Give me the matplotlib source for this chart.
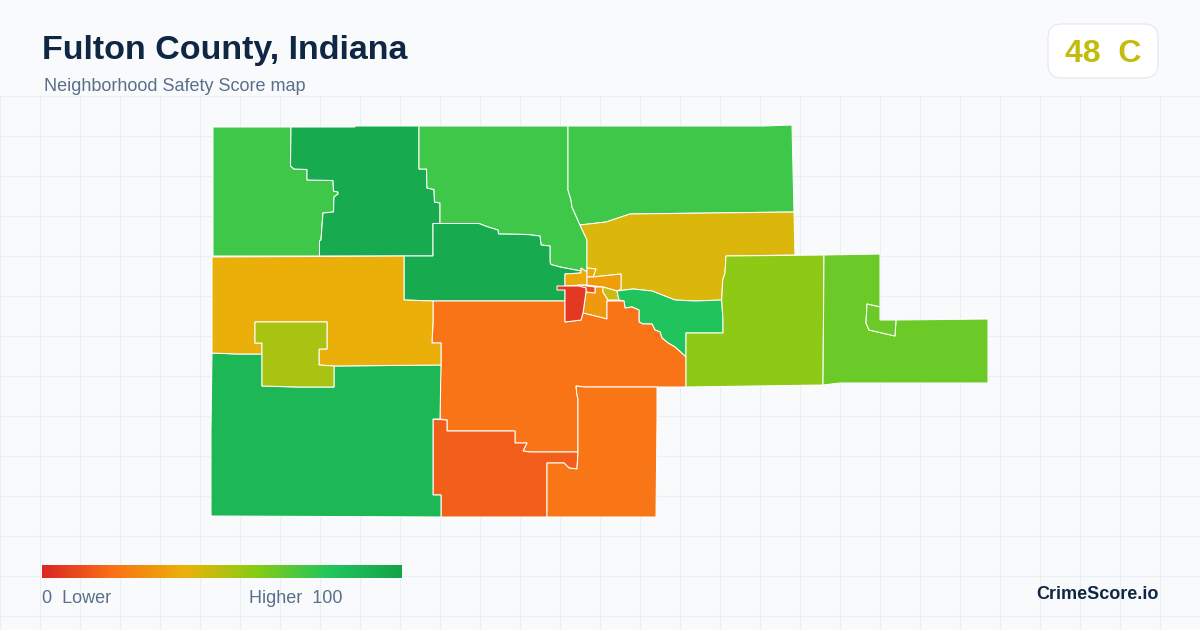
import numpy as np
import matplotlib
matplotlib.use("Agg")
import matplotlib.pyplot as plt
from matplotlib.colors import LinearSegmentedColormap
from matplotlib.patches import FancyBboxPatch

plt.rcParams['font.family'] = ['Liberation Sans', 'DejaVu Sans']

TITLE = "Fulton County, Indiana"
SUBTITLE = "Neighborhood Safety Score map"
GRADE = "48  C"
BRAND = "CrimeScore.io"
SCALE_LOW = "0  Lower"
SCALE_HIGH = "Higher  100"

scale_stops = [0, 20, 40, 60, 80, 100]
scale_colors = ["#dc2626", "#f97316", "#eab308", "#84cc16", "#22c55e", "#16a34a"]

nw = [(213,127),(291,127),(290.5,166),(294,169),(307,169.5),(307,180),(333,180.5),(333.5,191),(338,192),(338,194),(334,197),(333.5,212),(323,213),(322,226),(321,240),(319.5,241),(319.5,256),(213,256)]
n_dark = [(291,127),(355,127),(355,126),(419,126),(419,169),(426.5,169),(427,188),(434,189.5),(434.5,202),(440,203),(440,223.5),(433,223.5),(433,256),(319.5,256),(319.5,241),(321,240),(322,226),(323,213),(333.5,212),(334,197),(338,194),(338,192),(333.5,191),(333,180.5),(307,180),(307,169.5),(294,169),(290.5,166)]
nc = [(419,126),(568,126),(568,190),(571,200),(572,207),(580,225),(587,240),(587,272),(581,268),(581,271),(560,267),(551,264.5),(550,262),(550,246),(541,245),(540,236),(527,234.5),(498.5,234),(498,230),(488,227),(479,223.5),(440,223.5),(440,203),(434.5,202),(434,189.5),(427,188),(426.5,169),(419,169)]
ne = [(568,126),(680,126),(764,126),(792,125),(793,170),(794,212),(630,214),(606,222),(580,225),(572,207),(571,200),(568,190)]
e_gold = [(580,225),(606,222),(630,214),(794,212),(795,255),(726,256),(725,273),(722.7,280),(721.7,300),(695,301),(675,300),(652,291),(633,289),(617,291),(621,289),(621,274),(593,277),(596,269),(587,268),(587,240)]
c_dark = [(433,223.5),(479,223.5),(488,227),(498,230),(498.5,234),(527,234.5),(540,236),(541,245),(550,246),(550,262),(551,264.5),(560,267),(581,271),(581,273),(565,274),(565,301),(433,301),(404,300),(404,256),(433,256)]
town_a = [(565,274),(581,273),(581,268),(587,272),(587,285),(579,285),(565,286)]
town_b = [(587,268),(596,269),(593,277),(587,277)]
town_c = [(587,277),(593,277),(621,274),(621,289),(617,291),(603,287),(587,285)]
town_d = [(595,287),(603,287),(603,292),(608,300),(607,301),(607,319),(583,313),(586,292),(595,293)]
town_e = [(603,287),(617,291),(619,300),(608,300),(603,292)]
town_f = [(579,285),(595,287),(595,293),(586,292),(586,288),(579,288)]
town_red = [(557,286),(579,286),(586,288),(586,292),(583,313),(581,320),(565,322),(565,290),(557,290)]
teal = [(617,291),(633,289),(652,291),(675,300),(695,301),(721.7,300),(723,320),(723,333),(686,333),(686,357),(675,347),(668,343),(662,338),(660,332),(655,330),(652,324),(643,324),(639,322),(639,310),(632,307),(625,308),(624,301),(619,300)]
c_orange = [(433,301),(565,301),(565,322),(581,320),(583,313),(607,319),(607,301),(624,301),(625,308),(632,307),(639,310),(639,322),(643,324),(652,324),(655,330),(660,332),(662,338),(668,343),(675,347),(686,357),(686,387),(657,387),(585,387),(576,386),(577,395),(578,399),(578,452),(530,452),(523,451),(527,443),(515,443),(515,431),(447,431),(447,420),(440,419),(440,387),(441,365),(441,343),(432,343),(433,322)]
s_red = [(433,419),(447,420),(447,431),(515,431),(515,443),(527,443),(523,451),(530,452),(578,452),(577,469),(569,468),(564,463),(547,463),(547,517),(441,517),(441,495),(433,495)]
se = [(576,386),(585,387),(657,387),(657,420),(656,517),(547,517),(547,463),(564,463),(569,468),(577,469),(578,452),(578,399),(577,395)]
sw = [(212,353),(237,354),(262,354),(262,386),(298,387),(334,387),(334,366),(441,365),(440,419),(433,419),(433,495),(441,495),(441,517),(211,516),(211,430)]
w_gold = [(212,257),(404,256),(404,300),(433,301),(433,322),(432,343),(441,343),(441,365),(334,366),(319,365),(319,349),(327,349),(327,322),(291,322),(255,322),(255,343),(262,343),(262,354),(237,354),(212,353)]
w_inner = [(255,322),(291,322),(327,322),(327,349),(319,349),(319,365),(334,366),(334,387),(298,387),(262,386),(262,343),(255,343)]
e_lime = [(726,256),(824,255),(823,385),(686,387),(686,333),(723,333),(723,320),(721.7,300),(722.7,280),(725,273)]
far_e = [(824,255),(880,254),(880,307),(867,304),(866,323),(869,330),(895,336),(896,320),(988,319),(988,383),(840,383),(823,385)]
far_e_notch = [(867,304),(880,307),(880,320),(896,320),(895,336),(869,330),(866,323)]

outlines = [nw, n_dark, nc, ne, e_gold, c_dark, town_a, town_b, town_c, town_d, town_e,
            teal, c_orange, s_red, se, sw, w_gold, w_inner, e_lime, far_e, far_e_notch,
            town_f, town_red]
scores = [74, 96, 74, 74, 43, 96, 37, 37, 33, 32, 46,
          81, 20.5, 15, 21, 88, 39, 53, 58, 65, 65,
          11, 5]

cmap = LinearSegmentedColormap.from_list(
    "safety", [(s / 100, c) for s, c in zip(scale_stops, scale_colors)])

BG = "#f8fafc"
GRID = "#e8f0f4"
NAVY = "#0f2744"
SLATE = "#5a6f8c"

fig = plt.figure(figsize=(12, 6.3), dpi=100, facecolor=BG)
ax = fig.add_axes([0, 0, 1, 1])
ax.set_xlim(0, 1200)
ax.set_ylim(630, 0)
ax.axis("off")

ax.vlines(np.arange(0, 1200, 40) + 0.1, 96, 630, color=GRID, lw=0.75, zorder=1)
ax.hlines(np.arange(96, 630, 40) + 0.1, 0, 1200, color=GRID, lw=0.75, zorder=1)

for outline, score in zip(outlines, scores):
    ax.fill(*zip(*outline), facecolor=cmap(score / 100), edgecolor="white",
            linewidth=0.75, joinstyle="miter", zorder=2)

ax.text(42.5, 59.5, TITLE, fontsize=24.48, fontweight="bold", color=NAVY, va="baseline", zorder=5)
ax.text(44, 91, SUBTITLE, fontsize=12.95, color=SLATE, va="baseline", zorder=5)

ax.add_patch(FancyBboxPatch((1062, 38), 82, 26, boxstyle="round,pad=14,rounding_size=14",
                            facecolor="white", edgecolor="#e2e8f0", lw=0.8, zorder=4))
ax.text(1103, 62, GRADE, fontsize=23, fontweight="bold", color=matplotlib.colors.to_hex(cmap(0.48)),
        ha="center", va="baseline", zorder=5)

grad = np.linspace(0, 1, 360).reshape(1, -1)
ax.imshow(grad, cmap=cmap, extent=(42, 402, 578, 565), aspect="auto", zorder=3)
ax.set_xlim(0, 1200)
ax.set_ylim(630, 0)
ax.text(42, 603, SCALE_LOW, fontsize=12.95, color=SLATE, va="baseline", zorder=5)
ax.text(249, 603, SCALE_HIGH, fontsize=12.95, color=SLATE, va="baseline", zorder=5)
ax.text(1158.5, 599, BRAND, fontsize=13, fontweight="bold", color=NAVY, ha="right", va="baseline", zorder=5)

fig.savefig("out.png", dpi=100, facecolor=BG)
